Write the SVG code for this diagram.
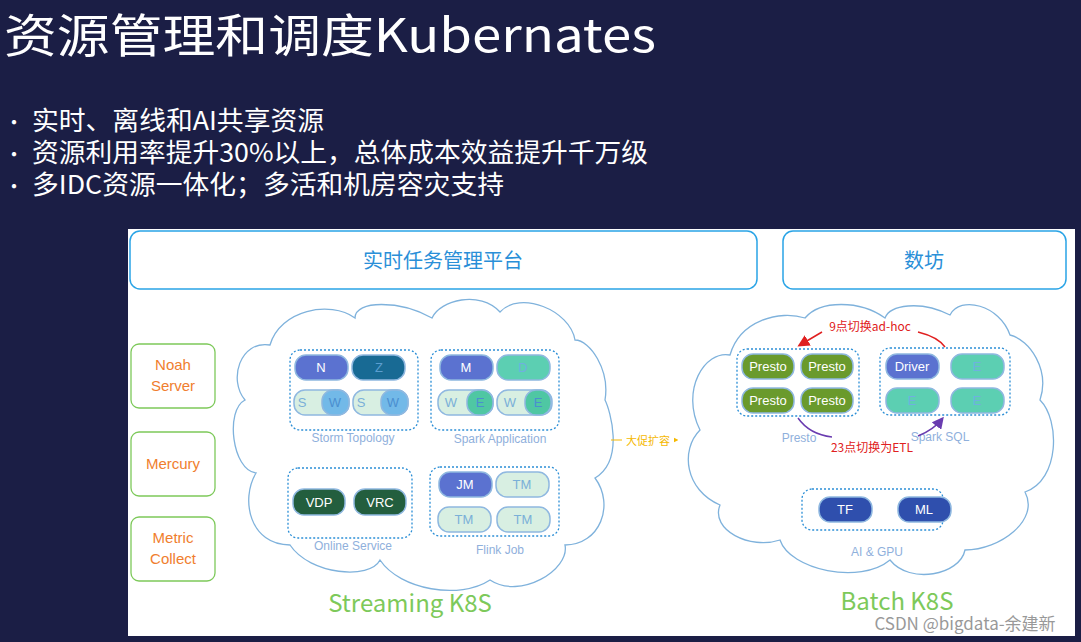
<svg xmlns="http://www.w3.org/2000/svg" width="1081" height="642" viewBox="0 0 1081 642">
<style>
.t{font-family:"Noto Sans CJK SC","Liberation Sans",sans-serif}
.cl{fill:none;stroke:#7fb2dc;stroke-width:1.3}
.grp{fill:none;stroke:#2c8fd6;stroke-width:1.3;stroke-dasharray:2 2}
.pill{stroke:#8fb8e0;stroke-width:1.5}
.pt{font-family:"Liberation Sans",sans-serif;font-size:13px;text-anchor:middle}
.lab{font-family:"Liberation Sans",sans-serif;font-size:12px;fill:#8fb0dc;text-anchor:middle}
.side{fill:#fff;stroke:#7dc95a;stroke-width:1.3}
.sidet{font-family:"Liberation Sans",sans-serif;font-size:15px;fill:#f07e2e;text-anchor:middle}
</style>
<defs>
<marker id="ar" markerWidth="8" markerHeight="8" refX="6" refY="4" orient="auto"><path d="M0,0L8,4L0,8z" fill="#e02020"/></marker>
<marker id="ap" markerWidth="8" markerHeight="8" refX="6" refY="4" orient="auto"><path d="M0,0L8,4L0,8z" fill="#6a3cb0"/></marker>
<marker id="ao" markerWidth="8" markerHeight="8" refX="6" refY="4" orient="auto"><path d="M0,0L8,4L0,8z" fill="#f5b800"/></marker>
</defs>
<rect width="1081" height="642" fill="#1b1e45"/>
<text class="t" x="4" y="52" font-size="46" fill="#fff" textLength="652" lengthAdjust="spacingAndGlyphs">资源管理和调度Kubernates</text>
<g class="t" font-size="26" fill="#fff">
<text x="4" y="130" font-size="20">•</text><text x="32" y="130" textLength="292" lengthAdjust="spacingAndGlyphs">实时、离线和AI共享资源</text>
<text x="4" y="162" font-size="20">•</text><text x="32" y="162" textLength="616" lengthAdjust="spacingAndGlyphs">资源利用率提升30%以上，总体成本效益提升千万级</text>
<text x="4" y="194" font-size="20">•</text><text x="32" y="194" textLength="472" lengthAdjust="spacingAndGlyphs">多IDC资源一体化；多活和机房容灾支持</text>
</g>
<rect x="128" y="229" width="947" height="407" fill="#fff"/>
<g id="rt"><rect x="130" y="231" width="627" height="58" rx="10" fill="#fff" stroke="#2aa4e6" stroke-width="1.5"/><text class="t" x="443" y="268" font-size="20" fill="#2a8fd8" text-anchor="middle">实时任务管理平台</text></g>
<g id="sf"><rect x="783" y="231" width="283" height="58" rx="10" fill="#fff" stroke="#2aa4e6" stroke-width="1.5"/><text class="t" x="924" y="268" font-size="20" fill="#2a8fd8" text-anchor="middle">数坊</text></g>
<g id="noah"><rect x="131" y="344" width="84" height="64" rx="8" class="side"/><text class="sidet" x="173" y="370">Noah</text><text class="sidet" x="173" y="391">Server</text></g>
<g id="mercury"><rect x="131" y="432" width="84" height="64" rx="8" class="side"/><text class="sidet" x="173" y="469">Mercury</text></g>
<g id="metric"><rect x="131" y="517" width="84" height="64" rx="8" class="side"/><text class="sidet" x="173" y="543">Metric</text><text class="sidet" x="173" y="564">Collect</text></g>
<g id="streaming">
<path class="cl" d="M270,345 C240,340 228,380 245,400 C225,410 232,470 256,473 C240,500 250,545 290,545 C310,575 370,580 380,560 C400,590 460,600 490,580 C520,600 570,570 565,545 C600,545 615,505 595,478 C625,460 610,410 605,400 C610,370 590,340 575,340 C570,310 520,290 500,312 C480,290 440,300 432,318 C400,300 355,300 355,318 C330,300 280,310 270,345 Z"/>
<rect class="grp" x="290" y="350" width="128" height="80" rx="10"/>
<rect class="pill" x="295" y="355" width="53" height="25" rx="11" fill="#5b72d0"/><text class="pt" x="321" y="372" fill="#fff">N</text>
<rect class="pill" x="352" y="355" width="53" height="25" rx="11" fill="#186a94"/><text class="pt" x="379" y="372" fill="#5b9ed0">Z</text>
<rect class="pill" x="294" y="390" width="55" height="25" rx="11" fill="#d8efe2"/><rect class="pill" x="322" y="390" width="27" height="25" rx="11" fill="#72b9e8"/><text class="pt" x="302" y="407" fill="#7ab0d8">S</text><text class="pt" x="335" y="407" fill="#4a8fd0">W</text>
<rect class="pill" x="353" y="390" width="55" height="25" rx="11" fill="#d8efe2"/><rect class="pill" x="381" y="390" width="27" height="25" rx="11" fill="#72b9e8"/><text class="pt" x="361" y="407" fill="#7ab0d8">S</text><text class="pt" x="393" y="407" fill="#4a8fd0">W</text>
<text class="lab" x="353" y="442">Storm Topology</text>
<rect class="grp" x="431" y="350" width="128" height="80" rx="10"/>
<rect class="pill" x="440" y="355" width="53" height="25" rx="11" fill="#5b72d0"/><text class="pt" x="466" y="372" fill="#fff">M</text>
<rect class="pill" x="497" y="355" width="53" height="25" rx="11" fill="#5ccfb2"/><text class="pt" x="523" y="372" fill="#6fb0e0">D</text>
<rect class="pill" x="438" y="390" width="55" height="25" rx="11" fill="#d8efe2"/><rect class="pill" x="467" y="390" width="26" height="25" rx="11" fill="#4fc7a3"/><text class="pt" x="451" y="407" fill="#7ab0d8">W</text><text class="pt" x="480" y="407" fill="#4a8fd0">E</text>
<rect class="pill" x="497" y="390" width="55" height="25" rx="11" fill="#d8efe2"/><rect class="pill" x="525" y="390" width="26" height="25" rx="11" fill="#4fc7a3"/><text class="pt" x="510" y="407" fill="#7ab0d8">W</text><text class="pt" x="538" y="407" fill="#4a8fd0">E</text>
<text class="lab" x="500" y="443">Spark Application</text>
<rect class="grp" x="288" y="468" width="124" height="70" rx="10"/>
<rect class="pill" x="293" y="489" width="52" height="26" rx="11" fill="#235e3e"/><text class="pt" x="319" y="507" fill="#fff">VDP</text>
<rect class="pill" x="354" y="489" width="52" height="26" rx="11" fill="#235e3e"/><text class="pt" x="380" y="507" fill="#fff">VRC</text>
<text class="lab" x="353" y="550">Online Service</text>
<rect class="grp" x="430" y="467" width="129" height="69" rx="10"/>
<rect class="pill" x="439" y="472" width="53" height="25" rx="11" fill="#5b72d0"/><text class="pt" x="465" y="489" fill="#fff">JM</text>
<rect class="pill" x="496" y="472" width="53" height="25" rx="11" fill="#d8efe2"/><text class="pt" x="522" y="489" fill="#7ab0d8">TM</text>
<rect class="pill" x="438" y="507" width="53" height="25" rx="11" fill="#d8efe2"/><text class="pt" x="464" y="524" fill="#7ab0d8">TM</text>
<rect class="pill" x="497" y="507" width="53" height="25" rx="11" fill="#d8efe2"/><text class="pt" x="523" y="524" fill="#7ab0d8">TM</text>
<text class="lab" x="500" y="554">Flink Job</text>
<text class="t" x="410" y="612" font-size="24" fill="#7dc95a" text-anchor="middle">Streaming K8S</text>
</g>
<g id="batch">
<path class="cl" d="M730,355 C705,350 680,390 700,430 C680,450 685,490 720,505 C710,530 750,550 780,540 C790,570 860,585 890,560 C910,585 960,575 965,550 C1000,550 1040,520 1025,492 C1060,480 1060,420 1040,400 C1050,370 1030,340 1010,335 C1000,305 960,295 950,315 C920,300 890,305 885,318 C860,300 820,300 805,318 C780,310 740,320 730,355 Z"/>
<rect class="grp" x="737" y="349" width="122" height="67" rx="10"/>
<rect class="pill" x="742" y="354" width="52" height="25" rx="11" fill="#6a9a2c"/><text class="pt" x="768" y="371" fill="#fff">Presto</text>
<rect class="pill" x="801" y="354" width="52" height="25" rx="11" fill="#6a9a2c"/><text class="pt" x="827" y="371" fill="#fff">Presto</text>
<rect class="pill" x="742" y="388" width="52" height="25" rx="11" fill="#6a9a2c"/><text class="pt" x="768" y="405" fill="#fff">Presto</text>
<rect class="pill" x="801" y="388" width="52" height="25" rx="11" fill="#6a9a2c"/><text class="pt" x="827" y="405" fill="#fff">Presto</text>
<text class="lab" x="799" y="442">Presto</text>
<rect class="grp" x="880" y="348" width="130" height="67" rx="10"/>
<rect class="pill" x="886" y="354" width="53" height="25" rx="11" fill="#5b72d0"/><text class="pt" x="912" y="371" fill="#fff">Driver</text>
<rect class="pill" x="951" y="354" width="53" height="25" rx="11" fill="#5ccfb2"/><text class="pt" x="977" y="371" fill="#6fb0e0">E</text>
<rect class="pill" x="886" y="388" width="53" height="25" rx="11" fill="#5ccfb2"/><text class="pt" x="912" y="405" fill="#6fb0e0">E</text>
<rect class="pill" x="951" y="388" width="53" height="25" rx="11" fill="#5ccfb2"/><text class="pt" x="977" y="405" fill="#6fb0e0">E</text>
<text class="lab" x="940" y="441">Spark SQL</text>
<rect class="grp" x="802" y="489" width="141" height="41" rx="10"/>
<rect class="pill" x="819" y="497" width="53" height="25" rx="11" fill="#2f4fad"/><text class="pt" x="845" y="514" fill="#fff">TF</text>
<rect class="pill" x="898" y="497" width="53" height="25" rx="11" fill="#2f4fad"/><text class="pt" x="924" y="514" fill="#fff">ML</text>
<text class="lab" x="877" y="556">AI &amp; GPU</text>
<text class="t" x="897" y="610" font-size="24" fill="#7dc95a" text-anchor="middle">Batch K8S</text>
</g>
<g id="connectors">
<path d="M611,440 L676,440" stroke="#f5b800" stroke-width="1.2" fill="none" marker-end="url(#ao)"/>
<path d="M822,332 L800,345" stroke="#e02020" stroke-width="1.5" fill="none" marker-end="url(#ar)"/>
<path d="M918,332 C930,335 940,340 945,347" stroke="#e02020" stroke-width="1.5" fill="none"/>
<path d="M798,418 C805,428 815,435 832,437" stroke="#6a3cb0" stroke-width="1.5" fill="none"/>
<path d="M918,436 C928,432 935,428 942,419" stroke="#6a3cb0" stroke-width="1.5" fill="none" marker-end="url(#ap)"/>
</g>
<rect x="622" y="433" width="52" height="14" fill="#fff"/>
<text class="t" x="648" y="445" font-size="11" fill="#f5b800" text-anchor="middle">大促扩容</text>
<text class="t" x="870" y="331" font-size="12" fill="#e02020" text-anchor="middle">9点切换ad-hoc</text>
<text class="t" x="872" y="452" font-size="12" fill="#e02020" text-anchor="middle">23点切换为ETL</text>
<text class="t" x="965" y="630" font-size="17" fill="#999" text-anchor="middle">CSDN @bigdata-余建新</text>
</svg>
